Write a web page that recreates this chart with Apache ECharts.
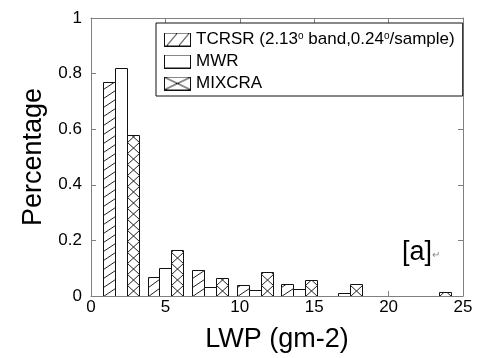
<!DOCTYPE html>
<html>
<head>
<meta charset="utf-8">
<script src="https://cdn.jsdelivr.net/npm/echarts@6/dist/echarts.min.js"></script>
<style>html,body{margin:0;padding:0;background:#fff;}#c{width:477px;height:358px;}</style>
</head>
<body>
<div id="c"></div>
<script>
// ---- data ----
const bins = [2, 5, 8, 11, 14, 17, 20, 23];            // bin centres, LWP (gm-2)
const tcrsr = [0.771, 0.067, 0.093, 0.041, 0.043, 0, 0, 0];
const mwr = [0.820, 0.099, 0.031, 0.022, 0.024, 0.010, 0, 0];
const mixcra = [0.578, 0.165, 0.066, 0.085, 0.057, 0.043, 0, 0.013];
const seriesNames = ['TCRSR', 'MWR', 'MIXCRA'];
const xTitle = 'LWP (gm-2)';
const yTitle = 'Percentage';
const panelLabel = '[a]';

const FONT = '"Liberation Sans", Arial, sans-serif';
const BAR_W = 0.8; // bar width in data units

function pairs(vals) {
  return bins.map((b, i) => [b, vals[i]]).filter(d => d[1] > 0);
}

function clipSeg(ax, ay, bx, by, ymin, ymax) {
  let t0 = 0, t1 = 1;
  const dy = by - ay;
  if (Math.abs(dy) < 1e-9) {
    if (ay < ymin || ay > ymax) return null;
  } else {
    const ta = (ymin - ay) / dy, tb = (ymax - ay) / dy;
    t0 = Math.max(t0, Math.min(ta, tb));
    t1 = Math.min(t1, Math.max(ta, tb));
  }
  if (t1 - t0 < 0.02) return null;
  return [ax + (bx - ax) * t0, ay + dy * t0, ax + (bx - ax) * t1, ay + dy * t1];
}

function makeRender(kind, slot) {
  return function (params, api) {
    const x = api.value(0), y = api.value(1);
    const w = api.size([BAR_W, 0])[0];
    const base = api.coord([x, 0]);
    const top = api.coord([x, y]);
    const cx = base[0] + (slot - 1) * w;
    const x0 = Math.round(cx - w / 2) + 0.5;
    const x1 = Math.round(cx + w / 2) + 0.5;
    const yb = Math.round(base[1]) + 0.5;
    const yt = Math.round(top[1]) + 0.5;
    const children = [{
      type: 'rect',
      shape: { x: x0, y: yt, width: x1 - x0, height: yb - yt },
      style: { fill: '#fff', stroke: '#111', lineWidth: 1 }
    }];
    const lines = [];
    if (kind === 'diag') {
      const step = 9, rise = 8;
      for (let k = -1; yb - k * step + 0 > yt - rise; k++) {
        const ys = yb - k * step;
        const s = clipSeg(x0, ys, x1, ys - rise, yt, yb);
        if (s) lines.push(s);
        if (k > 200) break;
      }
    } else if (kind === 'cross') {
      const step = 11;
      for (let k = 0; yb - k * step > yt; k++) {
        const ya = yb - k * step, yc = ya - step;
        const s1 = clipSeg(x0, ya, x1, yc, yt, yb);
        const s2 = clipSeg(x0, yc, x1, ya, yt, yb);
        if (s1) lines.push(s1);
        if (s2) lines.push(s2);
        if (k > 200) break;
      }
    }
    lines.forEach(s => children.push({
      type: 'line',
      shape: { x1: s[0], y1: s[1], x2: s[2], y2: s[3] },
      style: { stroke: '#222', lineWidth: 1 }
    }));
    return { type: 'group', children };
  };
}

function iconURL(kind) {
  const W = 27, H = 14;
  const cv = document.createElement('canvas');
  cv.width = W; cv.height = H;
  const g = cv.getContext('2d');
  g.fillStyle = '#fff'; g.fillRect(0, 0, W, H);
  g.strokeStyle = '#111'; g.lineWidth = 1;
  g.strokeRect(0.5, 0.5, W - 1, H - 1);
  g.beginPath();
  if (kind === 'diag') {
    g.moveTo(3, H - 1); g.lineTo(13, 1);
    g.moveTo(15, H - 1); g.lineTo(25, 1);
  } else if (kind === 'cross') {
    g.moveTo(1, 1); g.lineTo(W - 1, H - 1);
    g.moveTo(1, H - 1); g.lineTo(W - 1, 1);
  }
  g.stroke();
  return 'image://' + cv.toDataURL();
}

const kinds = ['diag', 'plain', 'cross'];
const valueSets = [tcrsr, mwr, mixcra];

const chart = echarts.init(document.getElementById('c'), null, { renderer: 'canvas' });
const axisGray = '#808080';

const option = {
  animation: false,
  backgroundColor: '#fff',
  textStyle: { fontFamily: FONT },
  grid: { left: 91, right: 14, top: 18, bottom: 58, containLabel: false },
  legend: {
    orient: 'vertical',
    left: 156,
    top: 23,
    padding: [8, 8, 4, 8],
    itemGap: 5,
    itemWidth: 27,
    itemHeight: 14,
    borderColor: '#111',
    borderWidth: 1,
    backgroundColor: '#fff',
    selectedMode: false,
    data: seriesNames.map((n, i) => ({ name: n, icon: iconURL(kinds[i]) })),
    formatter: function (name) {
      if (name === 'TCRSR') return '{n|TCRSR (2.13}{s|o}{n| band,0.24}{s|o}{n|/sample)}';
      return '{n|' + name + '}';
    },
    textStyle: {
      fontFamily: FONT,
      color: '#000',
      fontSize: 17,
      lineHeight: 16,
      rich: {
        n: { fontSize: 17, fontFamily: FONT, color: '#000', lineHeight: 16 },
        s: { fontSize: 10, fontFamily: FONT, color: '#000', padding: [0, 0, 7, 0], lineHeight: 10 }
      }
    }
  },
  xAxis: [{
    type: 'value', min: 0, max: 25, interval: 5,
    name: xTitle, nameLocation: 'middle', nameGap: 30,
    nameTextStyle: { fontFamily: FONT, fontSize: 27, color: '#000' },
    axisLine: { show: true, onZero: false, lineStyle: { color: axisGray, width: 1 } },
    axisTick: { show: true, inside: true, length: 5, lineStyle: { color: axisGray } },
    axisLabel: { fontFamily: FONT, fontSize: 17, color: '#000', margin: 3 },
    splitLine: { show: false }
  }, {
    type: 'value', min: 0, max: 25, interval: 5, position: 'top',
    axisLine: { show: true, onZero: false, lineStyle: { color: axisGray, width: 1 } },
    axisTick: { show: true, inside: true, length: 5, lineStyle: { color: axisGray } },
    axisLabel: { show: false },
    splitLine: { show: false }
  }],
  yAxis: [{
    type: 'value', min: 0, max: 1, interval: 0.2,
    name: yTitle, nameLocation: 'middle', nameGap: 43,
    nameTextStyle: { fontFamily: FONT, fontSize: 27, color: '#000' },
    axisLine: { show: true, onZero: false, lineStyle: { color: axisGray, width: 1 } },
    axisTick: { show: true, inside: true, length: 5, lineStyle: { color: axisGray } },
    axisLabel: { fontFamily: FONT, fontSize: 17, color: '#000', margin: 9 },
    splitLine: { show: false }
  }, {
    type: 'value', min: 0, max: 1, interval: 0.2, position: 'right',
    axisLine: { show: true, onZero: false, lineStyle: { color: axisGray, width: 1 } },
    axisTick: { show: true, inside: true, length: 5, lineStyle: { color: axisGray } },
    axisLabel: { show: false },
    splitLine: { show: false }
  }],
  series: seriesNames.map((n, i) => ({
    name: n,
    type: 'custom',
    xAxisIndex: 0,
    yAxisIndex: 0,
    renderItem: makeRender(kinds[i], i),
    itemStyle: { color: '#fff', borderColor: '#111' },
    encode: { x: 0, y: 1 },
    clip: true,
    z: 1,
    data: pairs(valueSets[i])
  })),
  graphic: [{
    type: 'text', left: 402, top: 239,
    style: { text: panelLabel, font: '27px ' + FONT, fill: '#000' }
  }, {
    type: 'text', left: 432, top: 250,
    style: { text: '\u21B5', font: '10px ' + FONT, fill: '#888' }
  }]
};
chart.setOption(option);
</script>
</body>
</html>
